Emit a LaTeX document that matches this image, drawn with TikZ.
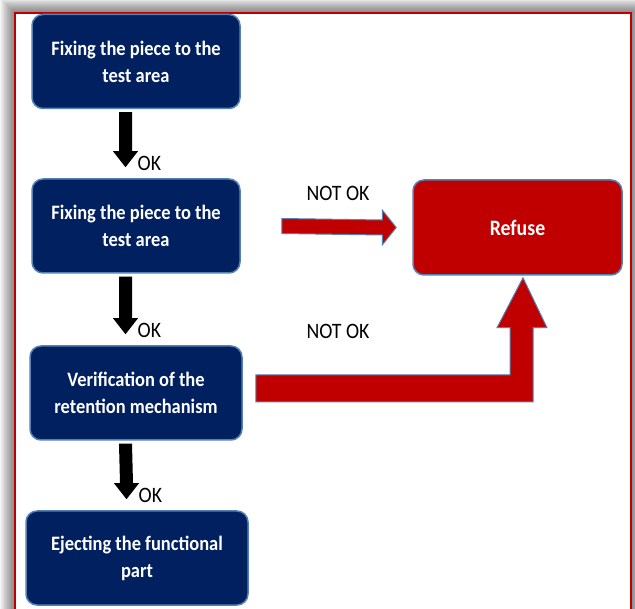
\documentclass[tikz,border=0pt]{standalone}
\usepackage{fontspec}
\setmainfont{Carlito}
\newfontfamily\narrowfont[FakeStretch=0.9]{Carlito}
\usetikzlibrary{calc}
\definecolor{navy}{RGB}{0,32,96}
\definecolor{redbox}{RGB}{192,0,0}
\definecolor{edgeblue}{RGB}{84,130,180}
\tikzset{
  stepbox/.style={draw=edgeblue, line width=1.5pt, fill=navy, rounded corners=11pt,
    text=white, font=\narrowfont\fontsize{20.5}{27}\selectfont\bfseries, align=center,
    minimum height=94pt, inner sep=0pt},
  refbox/.style={stepbox, fill=redbox, font=\narrowfont\fontsize{22}{27}\selectfont\bfseries},
  blackarrow/.style={fill=black},
  redarrow/.style={fill=redbox, draw=edgeblue, line width=1pt, line join=miter},
  lbl/.style={font=\narrowfont\fontsize{22}{24}\selectfont, text=black, inner sep=0pt},
}
\begin{document}
\begin{tikzpicture}[x=1pt,y=-1pt]
\useasboundingbox (0,0) rectangle (635,609);
% shadow
\foreach \k in {14,13,...,1}{
  \fill[black, opacity=0.04] ({14-\k},{12-\k}) rectangle ({632+\k},640);
}
\fill[white] (14,12) rectangle (632,640);
\draw[redbox, line width=2pt] (15,13) rectangle (631,640);
% boxes
\node[stepbox, minimum width=208pt] (b1) at (136,61.5) {Fixing the piece to the\\test area};
\node[stepbox, minimum width=208pt] (b2) at (136,226) {Fixing the piece to the\\test area};
\node[stepbox, minimum width=212pt] (b3) at (136,393) {Verification of the\\retention mechanism};
\node[stepbox, minimum width=222pt] (b4) at (137,558) {Ejecting the functional\\part};
\node[refbox, minimum width=209pt, minimum height=95pt] (ref) at (517.5,227.5) {Refuse};
% black arrows
\foreach \a/\b/\n in {b1/b2/1,b2/b3/2,b3/b4/3}{
  \coordinate (s\n) at ($(\a.south)+(-10.5,3)$);
  \coordinate (t\n) at ($(\b.north)+(-10.5,-11)$);
  \fill[blackarrow] ($(s\n)+(-6.5,0)$) -- ($(s\n)+(6.5,0)$) -- ($(t\n)+(6.5,-16)$) -- ($(t\n)+(12.5,-16)$)
     -- (t\n) -- ($(t\n)+(-12.5,-16)$) -- ($(t\n)+(-6.5,-16)$) -- cycle;
  \node[lbl, anchor=west] (ok\n) at ($(t\n)+(12,-4)$) {OK};
}
% red straight arrow
\coordinate (r1s) at ($(b2.east)+(41,0)$);
\coordinate (r1t) at ($(ref.west)+(-16,0)$);
\draw[redarrow] ($(r1s)+(0,-7.5)$) -- ($(r1t)+(-14,-7.5)$) -- ($(r1t)+(-14,-17.5)$) -- (r1t)
  -- ($(r1t)+(-14,17.5)$) -- ($(r1t)+(-14,7.5)$) -- ($(r1s)+(0,7.5)$) -- cycle;
\node[lbl] (nok1) at (338,193) {NOT OK};
% red bent arrow
\coordinate (r2s) at ($(b3.east)+(13,-4.5)$);
\coordinate (r2t) at ($(ref.south)+(5.5,2)$);
\draw[redarrow] ($(r2s)+(0,-13.5)$) -| ($(r2t)+(-13,50)$) -- ($(r2t)+(-26,50)$) -- (r2t)
  -- ($(r2t)+(24,50)$) -- ($(r2t)+(10,50)$) |- ($(r2s)+(0,13.5)$) -- cycle;
\node[lbl] (nok2) at (338,331) {NOT OK};
\end{tikzpicture}
\end{document}
